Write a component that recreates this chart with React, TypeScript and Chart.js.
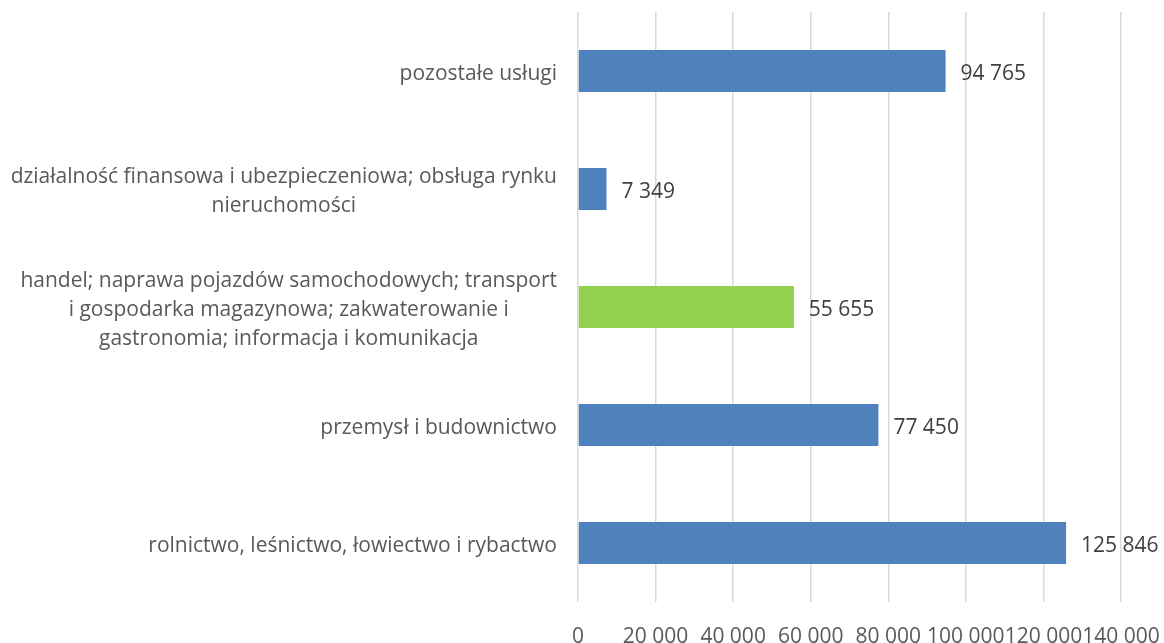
import React, { useEffect, useRef } from "react";
import { Chart, registerables } from "chart.js";

Chart.register(...registerables);

const categories: string[][] = [
  ["pozostałe usługi"],
  ["działalność finansowa i ubezpieczeniowa; obsługa rynku", "nieruchomości"],
  ["handel; naprawa pojazdów samochodowych; transport", "i gospodarka magazynowa; zakwaterowanie i", "gastronomia; informacja i komunikacja"],
  ["przemysł i budownictwo"],
  ["rolnictwo, leśnictwo, łowiectwo i rybactwo"],
];
const values: number[] = [94765, 7349, 55655, 77450, 125846];
const barColors: string[] = ["#4F81BD", "#4F81BD", "#92D050", "#4F81BD", "#4F81BD"];
const xTicks: number[] = [0, 20000, 40000, 60000, 80000, 100000, 120000, 140000];

const FONT = "'Open Sans', Lato, sans-serif";
const LABEL_SIZE = 21;
const LINE_H = 29;

const fmt = (v: number) => String(Math.round(v)).replace(/\B(?=(\d{3})+(?!\d))/g, " ");

const labelPlugin = {
  id: "customLabels",
  afterDraw(chart: any) {
    const ctx = chart.ctx;
    const yScale = chart.scales.y;
    const area = chart.chartArea;
    ctx.save();
    ctx.font = `${LABEL_SIZE}px ${FONT}`;
    ctx.fillStyle = "#595959";
    ctx.textBaseline = "middle";
    ctx.textAlign = "center";
    categories.forEach((lines, i) => {
      const yc = yScale.getPixelForValue(i) + 3;
      const w = Math.max(...lines.map((l) => ctx.measureText(l).width));
      const right = area.left - 21;
      const cx = right - w / 2;
      const y0 = yc - ((lines.length - 1) * LINE_H) / 2;
      lines.forEach((l, j) => ctx.fillText(l, cx, y0 + j * LINE_H));
    });
    ctx.fillStyle = "#404040";
    ctx.textAlign = "left";
    const meta = chart.getDatasetMeta(0);
    meta.data.forEach((bar: any, i: number) => {
      ctx.fillText(fmt(values[i]), bar.x + 15, bar.y + 3);
    });
    ctx.restore();
  },
};

export default function App() {
  const ref = useRef<HTMLCanvasElement>(null);
  useEffect(() => {
    if (!ref.current) return;
    const chart = new Chart(ref.current, {
      type: "bar",
      data: {
        labels: categories.map((c) => c.join(" ")),
        datasets: [
          {
            data: values,
            backgroundColor: barColors,
            borderWidth: 0,
            barPercentage: 0.355,
            categoryPercentage: 1,
          },
        ],
      },
      options: {
        indexAxis: "y",
        animation: false,
        responsive: false,
        layout: { padding: { left: 578, right: 43, top: 12, bottom: 0 } },
        plugins: { legend: { display: false }, tooltip: { enabled: false } },
        scales: {
          x: {
            min: 0,
            max: 140000,
            afterBuildTicks: (scale: any) => {
              scale.ticks = xTicks.map((v) => ({ value: v }));
            },
            afterFit: (scale: any) => {
              scale.height = 41;
              scale.paddingLeft = 0;
              scale.paddingRight = 0;
            },
            grid: { color: "#D9D9D9", lineWidth: 1.5, drawTicks: false },
            border: { display: false },
            ticks: {
              padding: 22,
              color: "#595959",
              font: { family: FONT, size: LABEL_SIZE },
              maxRotation: 0,
              autoSkip: false,
              callback: (v: any) => fmt(Number(v)),
            },
          },
          y: {
            grid: { display: false },
            border: { display: false },
            ticks: { display: false },
            afterFit: (scale: any) => {
              scale.width = 0;
            },
          },
        },
      },
      plugins: [labelPlugin],
    });
    return () => chart.destroy();
  }, []);
  return (
    <div style={{ position: "fixed", left: 0, top: 0, width: 1164, height: 643, background: "#fff" }}>
      <canvas ref={ref} width={1164} height={643} style={{ display: "block" }} />
    </div>
  );
}
